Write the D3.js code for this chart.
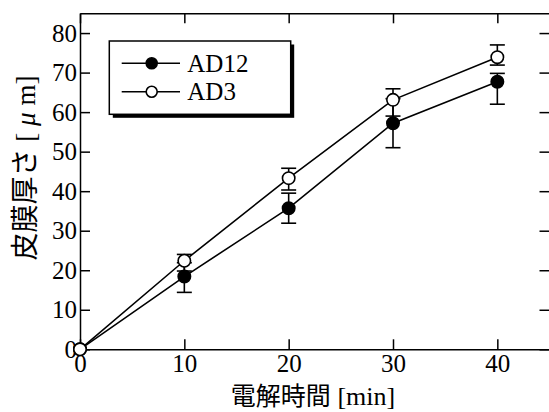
<!DOCTYPE html>
<html>
<head>
<meta charset="utf-8">
<script src="https://cdn.jsdelivr.net/npm/d3@7"></script>
<style>
  body { margin: 0; background: #fff; }
</style>
</head>
<body>
<div id="chart"></div>
<script>
// data
var times = [0, 10, 20, 30, 40];
var ad12 = [0, 18.4, 35.7, 57.2, 67.7];
var ad12ErrUp = [0, 3.5, 3.8, 6.2, 2.1];
var ad12ErrDown = [0, 4.0, 3.8, 6.2, 5.7];
var ad3 = [0, 22.4, 43.3, 63.1, 73.9];
var ad3ErrUp = [0, 1.6, 2.5, 2.8, 3.1];
var ad3ErrDown = [0, 2.6, 3.0, 4.1, 2.0];
var xTicks = [0, 10, 20, 30, 40];
var yTicks = [0, 10, 20, 30, 40, 50, 60, 70, 80];
var seriesNames = ["AD12", "AD3"];

var SERIF = "'Liberation Serif', 'DejaVu Serif', 'Times New Roman', serif";
var CJK = "'Noto Sans CJK JP', 'Noto Sans CJK SC', sans-serif";

// set the dimensions and margins of the graph
var W = 549, H = 412;
var margin = {top: 13.3, right: -0.5, bottom: 62.7, left: 80},
    width = W - margin.left - margin.right,
    height = H - margin.top - margin.bottom;

var svg = d3.select("#chart")
  .append("svg")
    .attr("width", W)
    .attr("height", H)
  .append("g")
    .attr("transform", "translate(" + margin.left + "," + margin.top + ")");

var x = d3.scaleLinear().domain([0, 45]).range([0, width]);
var y = d3.scaleLinear().domain([0, 85]).range([height, 0]);

function styleAxis(g, showText) {
  g.attr("font-family", SERIF).attr("font-size", 25);
  g.select(".domain").attr("stroke", "#000").attr("stroke-width", 1.5);
  g.selectAll(".tick line").attr("stroke", "#000").attr("stroke-width", 1.5);
  g.selectAll(".tick text").attr("fill", "#000").attr("font-family", SERIF).attr("font-size", 25);
  if (!showText) g.selectAll(".tick text").remove();
}

// bottom axis, ticks inward
svg.append("g")
    .attr("transform", "translate(0," + height + ")")
    .call(d3.axisBottom(x).tickValues(xTicks).tickSizeInner(-10).tickSizeOuter(0).tickPadding(5))
    .call(function(g) { styleAxis(g, true); });

// left axis
svg.append("g")
    .call(d3.axisLeft(y).tickValues(yTicks).tickSizeInner(-10).tickSizeOuter(0).tickPadding(3))
    .call(function(g) { styleAxis(g, true); });

// top and right axes, no labels
svg.append("g")
    .call(d3.axisTop(x).tickValues(xTicks).tickSizeInner(-10).tickSizeOuter(0))
    .call(function(g) { styleAxis(g, false); });
svg.append("g")
    .attr("transform", "translate(" + width + ",0)")
    .call(d3.axisRight(y).tickValues(yTicks).tickSizeInner(-10).tickSizeOuter(0))
    .call(function(g) { styleAxis(g, false); });

var series = [
  {name: seriesNames[0], vals: ad12, up: ad12ErrUp, down: ad12ErrDown, fill: "#000"},
  {name: seriesNames[1], vals: ad3, up: ad3ErrUp, down: ad3ErrDown, fill: "#fff"}
];

var line = d3.line()
    .x(function(d) { return x(d.t); })
    .y(function(d) { return y(d.v); });

series.forEach(function(s) {
  var pts = times.map(function(t, i) {
    return {t: t, v: s.vals[i], hi: s.vals[i] + s.up[i], lo: s.vals[i] - s.down[i]};
  });
  s.pts = pts;
  svg.append("path")
      .datum(pts)
      .attr("d", line)
      .attr("fill", "none")
      .attr("stroke", "#000")
      .attr("stroke-width", 1.6);
});

// error bars
series.forEach(function(s) {
  var eb = svg.append("g").selectAll("g")
      .data(s.pts.filter(function(d) { return d.hi !== d.lo; }))
      .enter().append("g")
      .attr("stroke", "#000")
      .attr("stroke-width", 1.6);
  eb.append("line")
      .attr("x1", function(d) { return x(d.t); })
      .attr("x2", function(d) { return x(d.t); })
      .attr("y1", function(d) { return y(d.hi); })
      .attr("y2", function(d) { return y(d.lo); });
  eb.append("line")
      .attr("x1", function(d) { return x(d.t) - 7.5; })
      .attr("x2", function(d) { return x(d.t) + 7.5; })
      .attr("y1", function(d) { return y(d.hi); })
      .attr("y2", function(d) { return y(d.hi); });
  eb.append("line")
      .attr("x1", function(d) { return x(d.t) - 7.5; })
      .attr("x2", function(d) { return x(d.t) + 7.5; })
      .attr("y1", function(d) { return y(d.lo); })
      .attr("y2", function(d) { return y(d.lo); });
});

// markers
series.forEach(function(s) {
  svg.append("g").selectAll("circle")
      .data(s.pts)
      .enter().append("circle")
      .attr("cx", function(d) { return x(d.t); })
      .attr("cy", function(d) { return y(d.v); })
      .attr("r", 6.2)
      .attr("fill", s.fill)
      .attr("stroke", "#000")
      .attr("stroke-width", 1.6);
});

// legend with shadow
var lg = svg.append("g").attr("transform", "translate(" + (109.3 - margin.left) + "," + (41 - margin.top) + ")");
lg.append("rect")
    .attr("x", 3.5).attr("y", 3.5)
    .attr("width", 181.4).attr("height", 73.3)
    .attr("fill", "#000");
lg.append("rect")
    .attr("width", 181.4).attr("height", 73.3)
    .attr("fill", "#fff")
    .attr("stroke", "#000")
    .attr("stroke-width", 1.5);
series.forEach(function(s, i) {
  var ly = 22.3 + i * 28.4;
  lg.append("line")
      .attr("x1", 12.4).attr("x2", 70.7)
      .attr("y1", ly).attr("y2", ly)
      .attr("stroke", "#000").attr("stroke-width", 1.6);
  lg.append("circle")
      .attr("cx", 42.4).attr("cy", ly).attr("r", 5.5)
      .attr("fill", s.fill).attr("stroke", "#000").attr("stroke-width", 1.6);
  lg.append("text")
      .attr("x", 78)
      .attr("y", ly)
      .attr("dy", "0.34em")
      .attr("font-family", SERIF)
      .attr("font-size", 25)
      .text(s.name);
});

// x axis label
var xl = svg.append("text")
    .attr("text-anchor", "middle")
    .attr("x", 313 - margin.left)
    .attr("y", 405 - margin.top);
xl.append("tspan").attr("font-family", CJK).attr("font-size", 25).text("電解時間");
xl.append("tspan").attr("font-family", SERIF).attr("font-size", 26).text(" [min]");

// y axis label
var yl = svg.append("text")
    .attr("text-anchor", "middle")
    .attr("transform", "translate(" + (35 - margin.left) + "," + (168 - margin.top) + ") rotate(-90)");
yl.append("tspan").attr("font-family", CJK).attr("font-size", 28).text("皮膜厚さ");
yl.append("tspan").attr("font-family", SERIF).attr("font-size", 27).text(" [");
yl.append("tspan").attr("font-family", SERIF).attr("font-size", 27).attr("font-style", "italic").text(" μ");
yl.append("tspan").attr("font-family", SERIF).attr("font-size", 27).text(" m]");
</script>
</body>
</html>
